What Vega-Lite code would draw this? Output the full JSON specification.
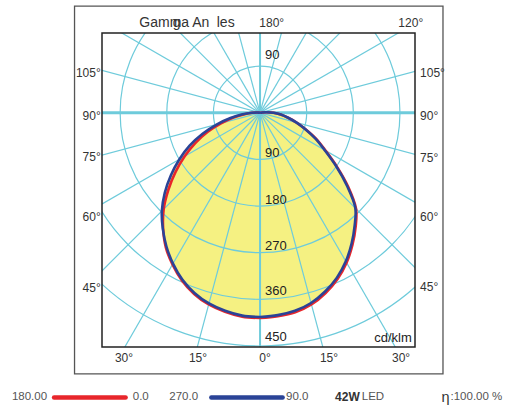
{
  "$schema": "https://vega.github.io/schema/vega-lite/v6.json",
  "width": 313,
  "height": 314,
  "autosize": {"type": "none"},
  "padding": {"left": 102, "top": 33, "right": 102, "bottom": 61},
  "background": "white",
  "config": {"view": {"stroke": null}, "text": {"font": "Liberation Sans", "fill": "#333"}},
  "datasets": {
    "curves": [
      {"c": "C0-C180", "p": "C180", "g": 0, "cd": 396}, {"c": "C0-C180", "p": "C180", "g": 5, "cd": 395}, {"c": "C0-C180", "p": "C180", "g": 10, "cd": 390}, {"c": "C0-C180", "p": "C180", "g": 15, "cd": 383}, {"c": "C0-C180", "p": "C180", "g": 20, "cd": 372}, {"c": "C0-C180", "p": "C180", "g": 25, "cd": 357}, {"c": "C0-C180", "p": "C180", "g": 30, "cd": 338}, {"c": "C0-C180", "p": "C180", "g": 35, "cd": 317}, {"c": "C0-C180", "p": "C180", "g": 40, "cd": 291}, {"c": "C0-C180", "p": "C180", "g": 45, "cd": 263}, {"c": "C0-C180", "p": "C180", "g": 50, "cd": 231}, {"c": "C0-C180", "p": "C180", "g": 55, "cd": 199}, {"c": "C0-C180", "p": "C180", "g": 60, "cd": 168}, {"c": "C0-C180", "p": "C180", "g": 65, "cd": 138}, {"c": "C0-C180", "p": "C180", "g": 70, "cd": 108}, {"c": "C0-C180", "p": "C180", "g": 75, "cd": 78}, {"c": "C0-C180", "p": "C180", "g": 80, "cd": 52}, {"c": "C0-C180", "p": "C180", "g": 85, "cd": 30}, {"c": "C0-C180", "p": "C180", "g": 90, "cd": 14}, {"c": "C0-C180", "p": "C180", "g": 95, "cd": 5}, {"c": "C0-C180", "p": "C180", "g": 100, "cd": 1}, {"c": "C0-C180", "p": "C180", "g": 105, "cd": 0},
      {"c": "C0-C180", "p": "C0", "g": 0, "cd": 396}, {"c": "C0-C180", "p": "C0", "g": 5, "cd": 394}, {"c": "C0-C180", "p": "C0", "g": 10, "cd": 391}, {"c": "C0-C180", "p": "C0", "g": 15, "cd": 383}, {"c": "C0-C180", "p": "C0", "g": 20, "cd": 370}, {"c": "C0-C180", "p": "C0", "g": 25, "cd": 354}, {"c": "C0-C180", "p": "C0", "g": 30, "cd": 334}, {"c": "C0-C180", "p": "C0", "g": 35, "cd": 311}, {"c": "C0-C180", "p": "C0", "g": 40, "cd": 287}, {"c": "C0-C180", "p": "C0", "g": 45, "cd": 262}, {"c": "C0-C180", "p": "C0", "g": 50, "cd": 222}, {"c": "C0-C180", "p": "C0", "g": 55, "cd": 181}, {"c": "C0-C180", "p": "C0", "g": 60, "cd": 146}, {"c": "C0-C180", "p": "C0", "g": 65, "cd": 120}, {"c": "C0-C180", "p": "C0", "g": 70, "cd": 94}, {"c": "C0-C180", "p": "C0", "g": 75, "cd": 73}, {"c": "C0-C180", "p": "C0", "g": 80, "cd": 55}, {"c": "C0-C180", "p": "C0", "g": 85, "cd": 40}, {"c": "C0-C180", "p": "C0", "g": 90, "cd": 26}, {"c": "C0-C180", "p": "C0", "g": 95, "cd": 13}, {"c": "C0-C180", "p": "C0", "g": 100, "cd": 4}, {"c": "C0-C180", "p": "C0", "g": 105, "cd": 0},
      {"c": "C90-C270", "p": "C270", "g": 0, "cd": 394}, {"c": "C90-C270", "p": "C270", "g": 5, "cd": 393}, {"c": "C90-C270", "p": "C270", "g": 10, "cd": 388}, {"c": "C90-C270", "p": "C270", "g": 15, "cd": 381}, {"c": "C90-C270", "p": "C270", "g": 20, "cd": 370}, {"c": "C90-C270", "p": "C270", "g": 25, "cd": 355}, {"c": "C90-C270", "p": "C270", "g": 30, "cd": 336}, {"c": "C90-C270", "p": "C270", "g": 35, "cd": 315}, {"c": "C90-C270", "p": "C270", "g": 40, "cd": 292}, {"c": "C90-C270", "p": "C270", "g": 45, "cd": 268}, {"c": "C90-C270", "p": "C270", "g": 50, "cd": 240}, {"c": "C90-C270", "p": "C270", "g": 55, "cd": 210}, {"c": "C90-C270", "p": "C270", "g": 60, "cd": 180}, {"c": "C90-C270", "p": "C270", "g": 65, "cd": 150}, {"c": "C90-C270", "p": "C270", "g": 70, "cd": 118}, {"c": "C90-C270", "p": "C270", "g": 75, "cd": 86}, {"c": "C90-C270", "p": "C270", "g": 80, "cd": 58}, {"c": "C90-C270", "p": "C270", "g": 85, "cd": 34}, {"c": "C90-C270", "p": "C270", "g": 90, "cd": 16}, {"c": "C90-C270", "p": "C270", "g": 95, "cd": 6}, {"c": "C90-C270", "p": "C270", "g": 100, "cd": 2}, {"c": "C90-C270", "p": "C270", "g": 105, "cd": 0},
      {"c": "C90-C270", "p": "C90", "g": 0, "cd": 394}, {"c": "C90-C270", "p": "C90", "g": 5, "cd": 392}, {"c": "C90-C270", "p": "C90", "g": 10, "cd": 388}, {"c": "C90-C270", "p": "C90", "g": 15, "cd": 380}, {"c": "C90-C270", "p": "C90", "g": 20, "cd": 367}, {"c": "C90-C270", "p": "C90", "g": 25, "cd": 351}, {"c": "C90-C270", "p": "C90", "g": 30, "cd": 331}, {"c": "C90-C270", "p": "C90", "g": 35, "cd": 308}, {"c": "C90-C270", "p": "C90", "g": 40, "cd": 284}, {"c": "C90-C270", "p": "C90", "g": 45, "cd": 260}, {"c": "C90-C270", "p": "C90", "g": 50, "cd": 219}, {"c": "C90-C270", "p": "C90", "g": 55, "cd": 179}, {"c": "C90-C270", "p": "C90", "g": 60, "cd": 144}, {"c": "C90-C270", "p": "C90", "g": 65, "cd": 118}, {"c": "C90-C270", "p": "C90", "g": 70, "cd": 93}, {"c": "C90-C270", "p": "C90", "g": 75, "cd": 73}, {"c": "C90-C270", "p": "C90", "g": 80, "cd": 55}, {"c": "C90-C270", "p": "C90", "g": 85, "cd": 40}, {"c": "C90-C270", "p": "C90", "g": 90, "cd": 26}, {"c": "C90-C270", "p": "C90", "g": 95, "cd": 13}, {"c": "C90-C270", "p": "C90", "g": 100, "cd": 4}, {"c": "C90-C270", "p": "C90", "g": 105, "cd": 0}
    ]
  },
  "layer": [
    {
      "data": {"values": [{"frame": "outer"}]},
      "mark": {"type": "rect", "filled": false, "stroke": "#555", "strokeWidth": 1.3},
      "encoding": {
        "x": {"datum": -358, "type": "quantitative", "scale": {"domain": [-305, 299], "nice": false, "zero": false}, "axis": null},
        "x2": {"datum": 353},
        "y": {"datum": 206, "type": "quantitative", "scale": {"domain": [-452, 154], "nice": false, "zero": false}, "axis": null},
        "y2": {"datum": -504}
      }
    },
    {
      "data": {"name": "curves"},
      "transform": [
        {"calculate": "(datum.p == 'C0' || datum.p == 'C90') ? 1 : -1", "as": "s"},
        {"calculate": "datum.s * datum.cd * sin(datum.g * PI / 180)", "as": "x"},
        {"calculate": "-datum.cd * cos(datum.g * PI / 180)", "as": "y"},
        {"calculate": "datum.s * datum.g", "as": "o"}
      ],
      "mark": {"type": "line", "fill": "#f5f182", "strokeOpacity": 0, "strokeWidth": 0, "clip": true, "interpolate": "catmull-rom"},
      "encoding": {
        "x": {"field": "x", "type": "quantitative", "scale": {"domain": [-305, 299], "nice": false, "zero": false}, "axis": null},
        "y": {"field": "y", "type": "quantitative", "scale": {"domain": [-452, 154], "nice": false, "zero": false}, "axis": null},
        "detail": {"field": "c"},
        "order": {"field": "o", "type": "quantitative"}
      }
    },
    {
      "data": {"values": [{"cd": 90}, {"cd": 180}, {"cd": 270}, {"cd": 360}, {"cd": 450}]},
      "mark": {"type": "point", "shape": "circle", "filled": false, "stroke": "#6ecbdb", "strokeWidth": 1.2, "opacity": 1, "clip": true},
      "encoding": {
        "x": {"datum": 0, "type": "quantitative", "scale": {"domain": [-305, 299], "nice": false, "zero": false}, "axis": null},
        "y": {"datum": 0, "type": "quantitative", "scale": {"domain": [-452, 154], "nice": false, "zero": false}, "axis": null},
        "size": {"field": "cd", "type": "quantitative", "scale": {"type": "pow", "exponent": 2, "domain": [0, 450], "range": [0, 217530]}, "legend": null}
      }
    },
    {
      "data": {"values": [{"g": 0}, {"g": 15}, {"g": 30}, {"g": 45}, {"g": 60}, {"g": 75}, {"g": 90}, {"g": 105}, {"g": 120}, {"g": 135}, {"g": 150}, {"g": 165}]},
      "transform": [
        {"calculate": "1000 * sin(datum.g * PI / 180)", "as": "xa"},
        {"calculate": "-1000 * cos(datum.g * PI / 180)", "as": "ya"},
        {"calculate": "-datum.xa", "as": "xb"},
        {"calculate": "-datum.ya", "as": "yb"}
      ],
      "mark": {"type": "rule", "color": "#6ecbdb", "clip": true},
      "encoding": {
        "x": {"field": "xa", "type": "quantitative", "scale": {"domain": [-305, 299], "nice": false, "zero": false}, "axis": null},
        "y": {"field": "ya", "type": "quantitative", "scale": {"domain": [-452, 154], "nice": false, "zero": false}, "axis": null},
        "x2": {"field": "xb"},
        "y2": {"field": "yb"},
        "strokeWidth": {"condition": [{"test": "datum.g == 90", "value": 3}, {"test": "datum.g == 0", "value": 2}], "value": 1.2}
      }
    },
    {
      "data": {"name": "curves"},
      "transform": [
        {"calculate": "(datum.p == 'C0' || datum.p == 'C90') ? 1 : -1", "as": "s"},
        {"calculate": "datum.s * datum.cd * sin(datum.g * PI / 180)", "as": "x"},
        {"calculate": "-datum.cd * cos(datum.g * PI / 180)", "as": "y"},
        {"calculate": "datum.s * datum.g", "as": "o"}
      ],
      "mark": {"type": "line", "strokeWidth": 2.6, "clip": true, "interpolate": "catmull-rom"},
      "encoding": {
        "x": {"field": "x", "type": "quantitative", "scale": {"domain": [-305, 299], "nice": false, "zero": false}, "axis": null},
        "y": {"field": "y", "type": "quantitative", "scale": {"domain": [-452, 154], "nice": false, "zero": false}, "axis": null},
        "color": {"field": "c", "type": "nominal", "scale": {"domain": ["C0-C180", "C90-C270"], "range": ["#e8262b", "#2a4397"]}, "legend": null},
        "order": {"field": "o", "type": "quantitative"}
      }
    },
    {
      "data": {"values": [{"frame": "inner"}]},
      "mark": {"type": "rect", "filled": false, "stroke": "#222", "strokeWidth": 1.5},
      "encoding": {
        "x": {"datum": -305, "type": "quantitative", "scale": {"domain": [-305, 299], "nice": false, "zero": false}, "axis": null},
        "x2": {"datum": 299},
        "y": {"datum": 154, "type": "quantitative", "scale": {"domain": [-452, 154], "nice": false, "zero": false}, "axis": null},
        "y2": {"datum": -452}
      }
    },
    {
      "data": {"values": [{"t": "90", "y": 111.5}, {"t": "90", "y": -78}, {"t": "180", "y": -168}, {"t": "270", "y": -256.5}, {"t": "360", "y": -343}, {"t": "450", "y": -432}]},
      "mark": {"type": "text", "align": "left", "baseline": "middle", "fontSize": 13, "fill": "#222"},
      "encoding": {
        "x": {"datum": 9.6, "type": "quantitative", "scale": {"domain": [-305, 299], "nice": false, "zero": false}, "axis": null},
        "y": {"field": "y", "type": "quantitative", "scale": {"domain": [-452, 154], "nice": false, "zero": false}, "axis": null},
        "text": {"field": "t"}
      }
    },
    {
      "data": {"values": [{"t": "105°", "y": 77.4}, {"t": "90°", "y": -5.6}, {"t": "75°", "y": -85.3}, {"t": "60°", "y": -201}, {"t": "45°", "y": -338}]},
      "mark": {"type": "text", "align": "right", "baseline": "middle", "fontSize": 12},
      "encoding": {
        "x": {"datum": -307.4, "type": "quantitative", "scale": {"domain": [-305, 299], "nice": false, "zero": false}, "axis": null},
        "y": {"field": "y", "type": "quantitative", "scale": {"domain": [-452, 154], "nice": false, "zero": false}, "axis": null},
        "text": {"field": "t"}
      }
    },
    {
      "data": {"values": [{"t": "105°", "y": 77.4}, {"t": "90°", "y": -6.2}, {"t": "75°", "y": -87.8}, {"t": "60°", "y": -200.5}, {"t": "45°", "y": -336.7}]},
      "mark": {"type": "text", "align": "left", "baseline": "middle", "fontSize": 12},
      "encoding": {
        "x": {"datum": 308.8, "type": "quantitative", "scale": {"domain": [-305, 299], "nice": false, "zero": false}, "axis": null},
        "y": {"field": "y", "type": "quantitative", "scale": {"domain": [-452, 154], "nice": false, "zero": false}, "axis": null},
        "text": {"field": "t"}
      }
    },
    {
      "data": {"values": [{"t": "180°", "x": -1.4}, {"t": "120°", "x": 266.9}]},
      "mark": {"type": "text", "align": "left", "baseline": "middle", "fontSize": 12},
      "encoding": {
        "x": {"field": "x", "type": "quantitative", "scale": {"domain": [-305, 299], "nice": false, "zero": false}, "axis": null},
        "y": {"datum": 173.3, "type": "quantitative", "scale": {"domain": [-452, 154], "nice": false, "zero": false}, "axis": null},
        "text": {"field": "t"}
      }
    },
    {
      "data": {"values": [{"t": "Gamma An", "x": -232.9}, {"t": "g", "x": -168.5}, {"t": "les", "x": -83.6}]},
      "mark": {"type": "text", "align": "left", "baseline": "middle", "fontSize": 14},
      "encoding": {
        "x": {"field": "x", "type": "quantitative", "scale": {"domain": [-305, 299], "nice": false, "zero": false}, "axis": null},
        "y": {"datum": 173.3, "type": "quantitative", "scale": {"domain": [-452, 154], "nice": false, "zero": false}, "axis": null},
        "text": {"field": "t"}
      }
    },
    {
      "data": {"values": [{"t": "30°", "x": -262.5}, {"t": "15°", "x": -119.7}, {"t": "0°", "x": 9.6}, {"t": "15°", "x": 133.1}, {"t": "30°", "x": 272.1}]},
      "mark": {"type": "text", "align": "center", "baseline": "middle", "fontSize": 12},
      "encoding": {
        "x": {"field": "x", "type": "quantitative", "scale": {"domain": [-305, 299], "nice": false, "zero": false}, "axis": null},
        "y": {"datum": -473, "type": "quantitative", "scale": {"domain": [-452, 154], "nice": false, "zero": false}, "axis": null},
        "text": {"field": "t"}
      }
    },
    {
      "data": {"values": [{"t": "cd/klm"}]},
      "mark": {"type": "text", "align": "right", "baseline": "middle", "fontSize": 13, "fill": "#222"},
      "encoding": {
        "x": {"datum": 292.9, "type": "quantitative", "scale": {"domain": [-305, 299], "nice": false, "zero": false}, "axis": null},
        "y": {"datum": -434.6, "type": "quantitative", "scale": {"domain": [-452, 154], "nice": false, "zero": false}, "axis": null},
        "text": {"field": "t"}
      }
    },
    {
      "data": {"values": [{"k": "C0-C180", "x1": -397.5, "x2": -259.5}, {"k": "C90-C270", "x1": -94, "x2": 43.5}]},
      "mark": {"type": "rule", "strokeWidth": 4.5, "strokeCap": "round"},
      "encoding": {
        "x": {"field": "x1", "type": "quantitative", "scale": {"domain": [-305, 299], "nice": false, "zero": false}, "axis": null},
        "x2": {"field": "x2"},
        "y": {"datum": -549.3, "type": "quantitative", "scale": {"domain": [-452, 154], "nice": false, "zero": false}, "axis": null},
        "color": {"field": "k", "type": "nominal", "scale": {"domain": ["C0-C180", "C90-C270"], "range": ["#e8262b", "#2a4397"]}, "legend": null}
      }
    },
    {
      "data": {"values": [{"t": "180.00", "x": -411}, {"t": "270.0", "x": -119.6}]},
      "mark": {"type": "text", "align": "right", "baseline": "middle", "fontSize": 11.5, "fill": "#555"},
      "encoding": {
        "x": {"field": "x", "type": "quantitative", "scale": {"domain": [-305, 299], "nice": false, "zero": false}, "axis": null},
        "y": {"datum": -548.4, "type": "quantitative", "scale": {"domain": [-452, 154], "nice": false, "zero": false}, "axis": null},
        "text": {"field": "t"}
      }
    },
    {
      "data": {"values": [{"t": "0.0", "x": -245.7}, {"t": "90.0", "x": 50.2}, {"t": "LED", "x": 196.3}, {"t": ":100.00 %", "x": 367.5}]},
      "mark": {"type": "text", "align": "left", "baseline": "middle", "fontSize": 11.5, "fill": "#555"},
      "encoding": {
        "x": {"field": "x", "type": "quantitative", "scale": {"domain": [-305, 299], "nice": false, "zero": false}, "axis": null},
        "y": {"datum": -548.4, "type": "quantitative", "scale": {"domain": [-452, 154], "nice": false, "zero": false}, "axis": null},
        "text": {"field": "t"}
      }
    },
    {
      "data": {"values": [{"t": "42W", "x": 144.7}]},
      "mark": {"type": "text", "align": "left", "baseline": "middle", "fontSize": 12, "fontWeight": "bold", "fill": "#333"},
      "encoding": {
        "x": {"field": "x", "type": "quantitative", "scale": {"domain": [-305, 299], "nice": false, "zero": false}, "axis": null},
        "y": {"datum": -548.4, "type": "quantitative", "scale": {"domain": [-452, 154], "nice": false, "zero": false}, "axis": null},
        "text": {"field": "t"}
      }
    },
    {
      "data": {"values": [{"t": "η", "x": 350}]},
      "mark": {"type": "text", "align": "left", "baseline": "middle", "fontSize": 14.5, "fill": "#333"},
      "encoding": {
        "x": {"field": "x", "type": "quantitative", "scale": {"domain": [-305, 299], "nice": false, "zero": false}, "axis": null},
        "y": {"datum": -549.5, "type": "quantitative", "scale": {"domain": [-452, 154], "nice": false, "zero": false}, "axis": null},
        "text": {"field": "t"}
      }
    }
  ]
}
